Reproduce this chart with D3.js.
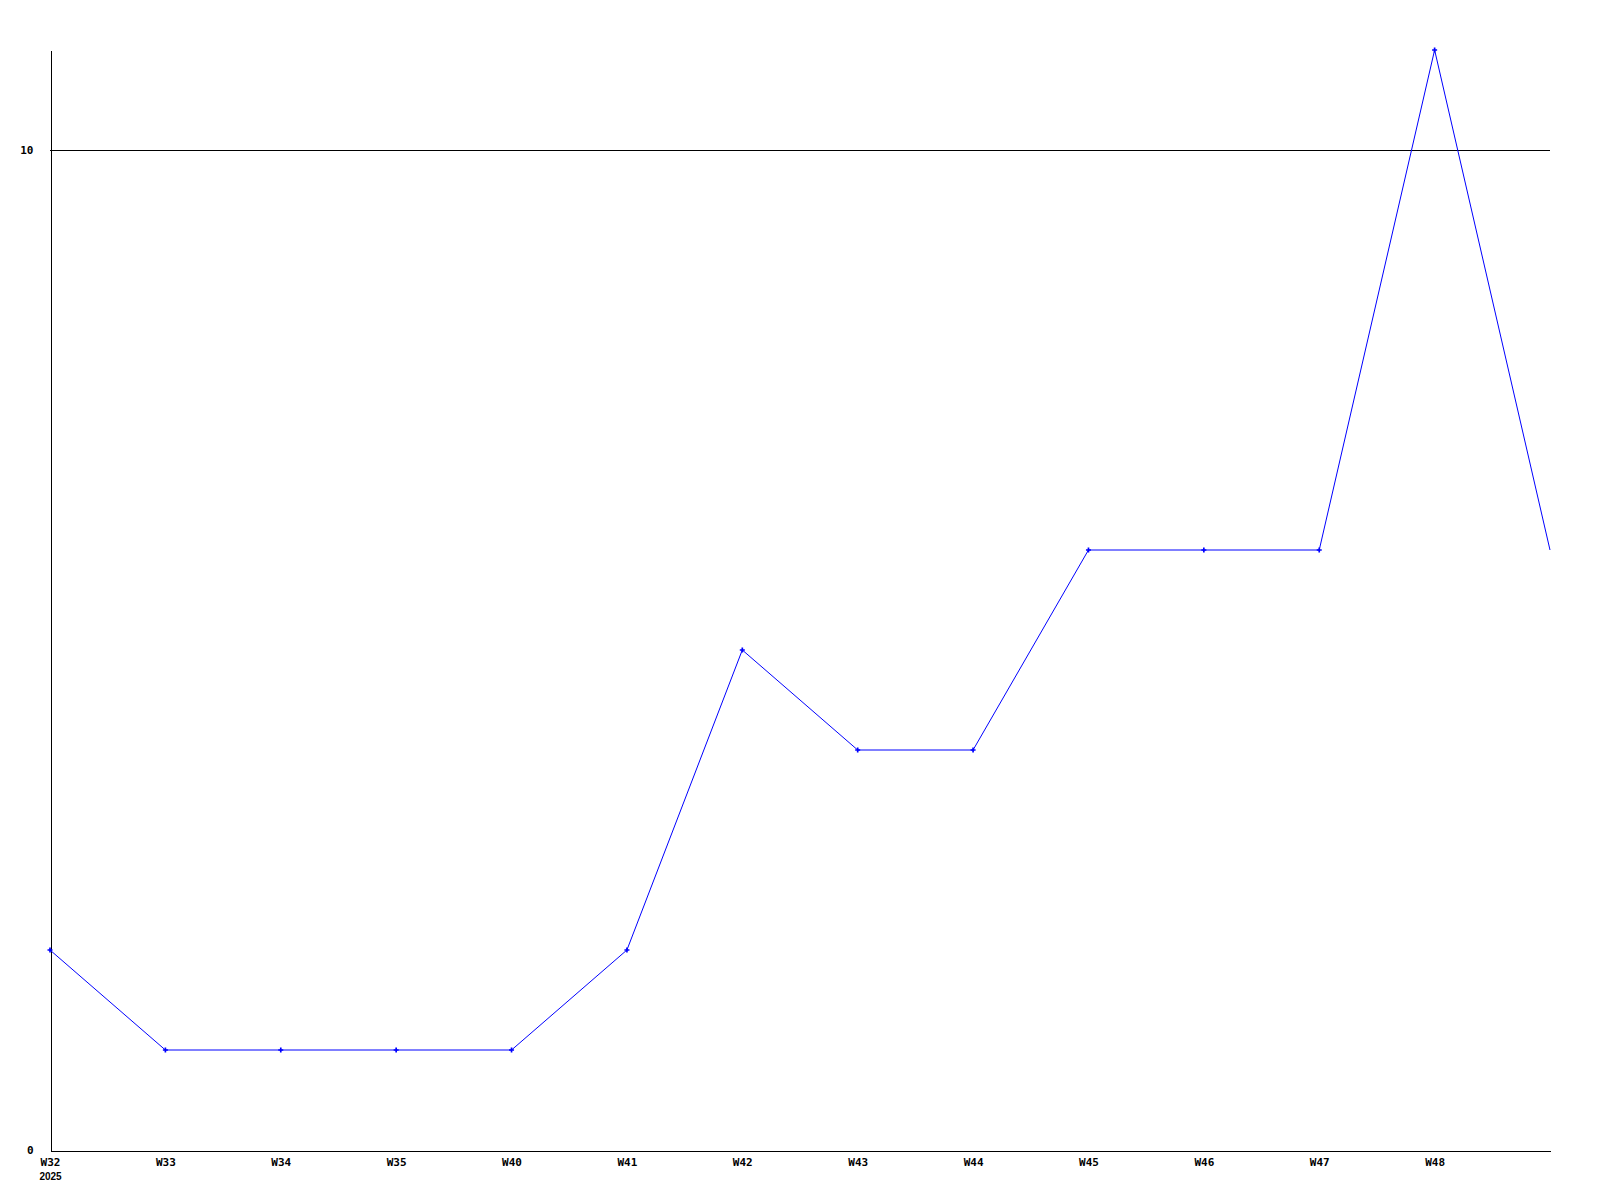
<!DOCTYPE html>
<html>
<head>
<meta charset="utf-8">
<script src="https://cdn.jsdelivr.net/npm/d3@7"></script>
<style>
  body { margin: 0; background: #fff; }
  svg { display: block; }
</style>
</head>
<body>
<div id="chart"></div>
<script>
let width = 1600;
let height = 1200;
let margin = ({ top: 50, right: 50, bottom: 50, left: 50 });

// one value per week, last point has no label
let values = [2, 1, 1, 1, 1, 2, 5, 4, 4, 6, 6, 6, 11, 6];
let tickLabels = ["W32", "W33", "W34", "W35", "W40", "W41", "W42", "W43", "W44", "W45", "W46", "W47", "W48"];
let yearLabel = "2025";
let yTicks = [0, 10];

let data = values.map((v, i) => ({ i: i, y: v }));

let xScale = d3.scaleLinear()
    .domain([0, values.length - 1])
    .range([margin.left, width - margin.right]);
let yScale = d3.scaleLinear()
    .domain([0, 11])
    .range([height - margin.bottom, margin.top]);

let svg = d3.select("#chart")
    .append("svg")
    .attr("width", width)
    .attr("height", height)
    .attr("font-family", "'DejaVu Sans Mono', monospace")
    .attr("font-size", 11)
    .attr("font-weight", "bold");

// horizontal grid at 10
svg.append("g")
    .selectAll("line")
    .data(yTicks.filter(d => d > 0))
    .join("line")
    .attr("x1", xScale(0))
    .attr("x2", width - margin.right)
    .attr("y1", d => Math.round(yScale(d)) + 0.5)
    .attr("y2", d => Math.round(yScale(d)) + 0.5)
    .attr("stroke", "#000")
    .attr("shape-rendering", "crispEdges");

// axes
let xAxis = g => g
    .attr("transform", `translate(0,${yScale(0) + 0.5})`)
    .call(d3.axisBottom(xScale)
        .tickValues(d3.range(tickLabels.length))
        .tickSize(0)
        .tickPadding(8)
        .tickFormat(i => tickLabels[i]))
    .call(g => g.select(".domain").attr("stroke", "#000").attr("shape-rendering", "crispEdges"))
    .call(g => g.selectAll(".tick text")
        .attr("font-family", "'DejaVu Sans Mono', monospace")
        .attr("font-size", 11)
        .attr("font-weight", "bold")
        .attr("fill", "#000"))
    .call(g => g.select(".tick:first-of-type")
        .append("text")
        .attr("y", 22)
        .attr("dy", "0.71em")
        .attr("text-anchor", "middle")
        .attr("fill", "#000")
        .text(yearLabel));

let yAxis = g => g
    .attr("transform", `translate(${xScale(0) + 0.5},0)`)
    .call(d3.axisLeft(yScale)
        .tickValues(yTicks)
        .tickSize(0)
        .tickPadding(17)
        .tickFormat(d3.format("d")))
    .call(g => g.select(".domain").attr("stroke", "#000").attr("shape-rendering", "crispEdges"))
    .call(g => g.selectAll(".tick text")
        .attr("font-family", "'DejaVu Sans Mono', monospace")
        .attr("font-size", 11)
        .attr("font-weight", "bold")
        .attr("fill", "#000"));

svg.append("g").call(xAxis);
svg.append("g").call(yAxis);

let line = d3.line()
    .x(d => xScale(d.i))
    .y(d => yScale(d.y));

svg.append("path")
    .datum(data)
    .attr("fill", "none")
    .attr("stroke", "#0000ff")
    .attr("stroke-width", 1)
    .attr("d", line);

// markers (last point sits on the edge, no marker)
svg.append("g")
    .attr("fill", "#0000ff")
    .selectAll("path")
    .data(data.slice(0, data.length - 1))
    .join("path")
    .attr("transform", d => `translate(${xScale(d.i)},${yScale(d.y)})`)
    .attr("d", d3.symbol(d3.symbolCross, 14));
</script>
</body>
</html>
